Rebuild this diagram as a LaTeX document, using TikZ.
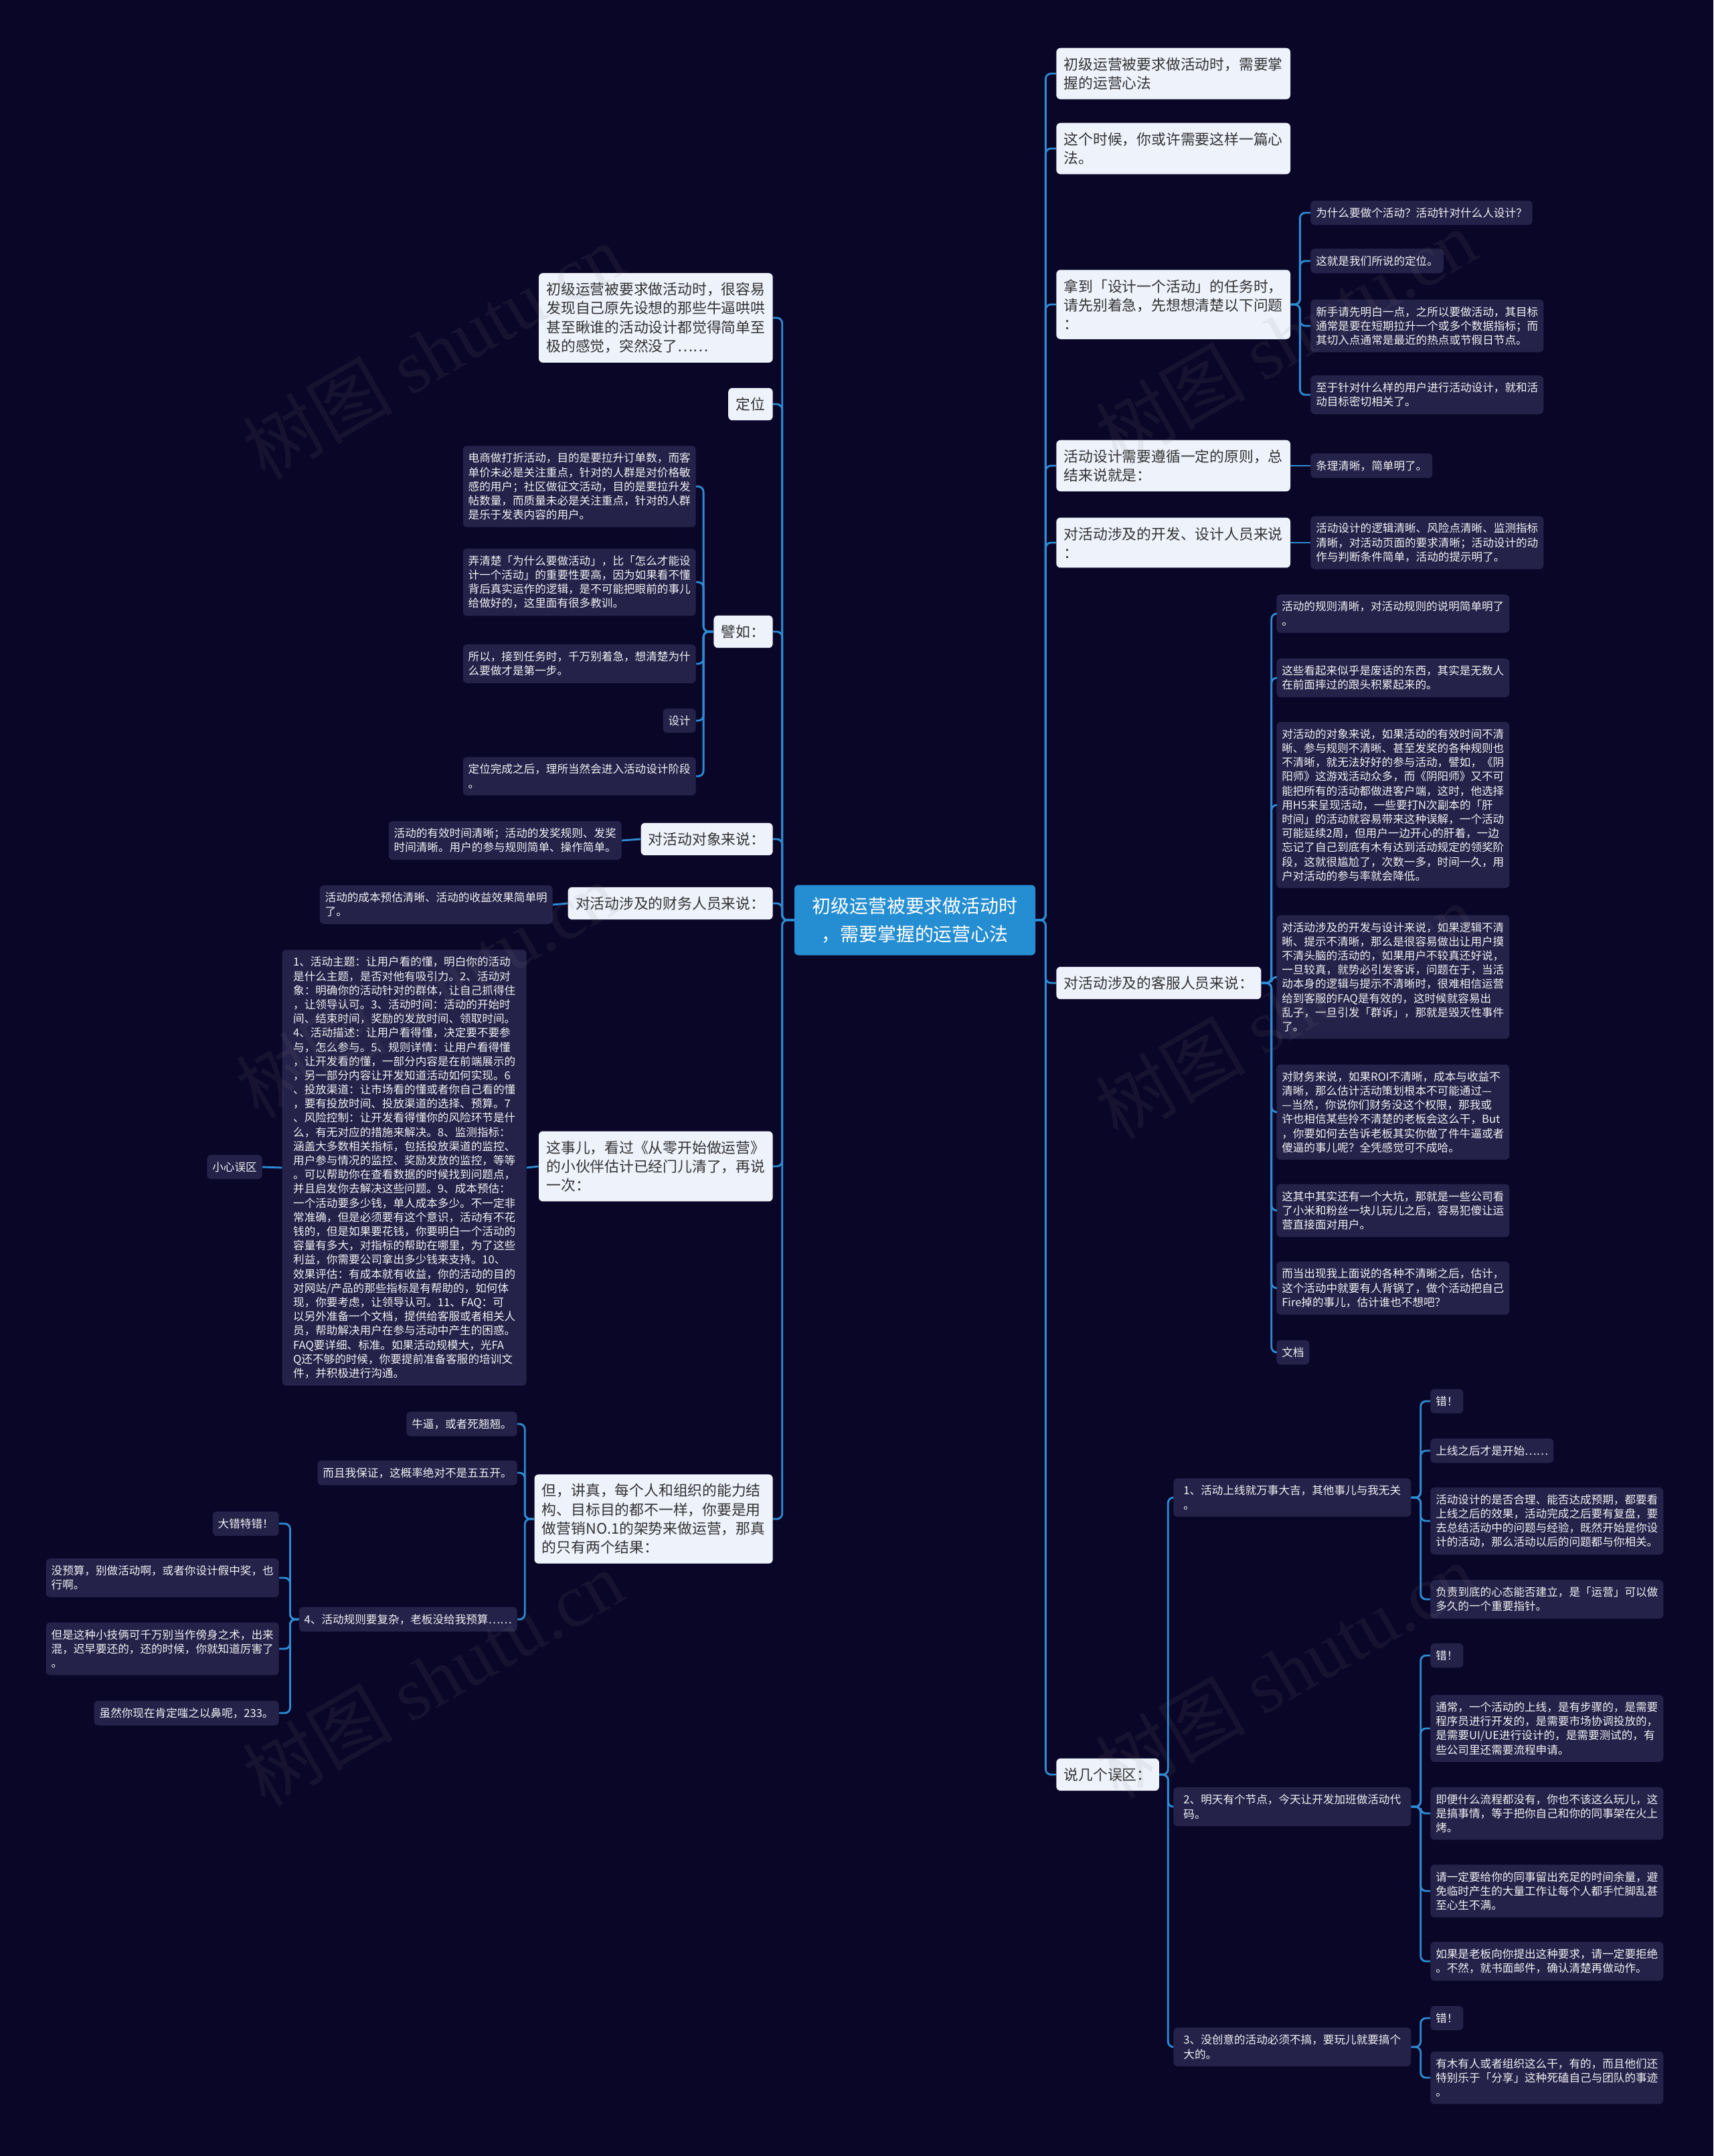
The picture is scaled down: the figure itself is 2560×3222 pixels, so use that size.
\documentclass[tikz,border=0pt]{standalone}
\usepackage{fontspec}
\setmainfont{Noto Sans CJK SC}
\newfontfamily\wmserif{Liberation Serif}
\usepackage{tikz}
\definecolor{bgnavy}{HTML}{0A0628}
\definecolor{topicfill}{HTML}{EEF2FB}
\definecolor{topicink}{HTML}{333333}
\definecolor{leaffill}{HTML}{25224A}
\definecolor{leafink}{HTML}{F2F2F2}
\definecolor{rootblue}{HTML}{258ED2}
\definecolor{linkblue}{HTML}{2D8CD4}

\begin{document}
\begin{tikzpicture}[x=0.02cm,y=-0.02cm,
  root/.style={fill=rootblue,text=white,rounded corners=3.5pt,align=center,
    inner xsep=15pt,inner ysep=10.5pt,font=\fontsize{15.9}{23.7}\selectfont},
  topic/.style={fill=topicfill,text=topicink,rounded corners=3.5pt,align=left,
    inner xsep=6.5pt,inner ysep=8pt,font=\fontsize{12.4}{16.1}\selectfont},
  leaf/.style={fill=leaffill,text=leafink,rounded corners=3.5pt,align=left,
    inner xsep=4.5pt,inner ysep=6pt,font=\fontsize{9.45}{12.06}\selectfont},
  topicL/.style={topic,anchor=east},
  topicR/.style={topic,anchor=west},
  leafL/.style={leaf,anchor=east},
  leafR/.style={leaf,anchor=west},
  link/.style={draw=linkblue,line width=1.6pt,rounded corners=4.5pt},
  wmark/.style={text=gray,text opacity=0.1,rotate=30,font=\fontsize{64}{64}\selectfont}]

\fill[bgnavy] (0,0) rectangle (2560,3222);
\useasboundingbox (0,0) rectangle (2560,3222);

\node[root] (root) at (1367,1375) {初级运营被要求做活动时\\，需要掌握的运营心法};

\node[topicR] (n1) at (1578,110) {初级运营被要求做活动时，需要掌\\握的运营心法};
\node[topicR] (n2) at (1578,222) {这个时候，你或许需要这样一篇心\\法。};
\node[topicR] (n3) at (1578,455) {拿到「设计一个活动」的任务时，\\请先别着急，先想想清楚以下问题\\：};
\node[leafR] (n3a) at (1958,318) {为什么要做个活动？活动针对什么人设计？};
\node[leafR] (n3b) at (1958,390) {这就是我们所说的定位。};
\node[leafR] (n3c) at (1958,487) {新手请先明白一点，之所以要做活动，其目标\\通常是要在短期拉升一个或多个数据指标；而\\其切入点通常是最近的热点或节假日节点。};
\node[leafR] (n3d) at (1958,590) {至于针对什么样的用户进行活动设计，就和活\\动目标密切相关了。};
\node[topicR] (n4) at (1578,696) {活动设计需要遵循一定的原则，总\\结来说就是：};
\node[leafR] (n4a) at (1958,696) {条理清晰，简单明了。};
\node[topicR] (n5) at (1578,811) {对活动涉及的开发、设计人员来说\\：};
\node[leafR] (n5a) at (1958,811) {活动设计的逻辑清晰、风险点清晰、监测指标\\清晰，对活动页面的要求清晰；活动设计的动\\作与判断条件简单，活动的提示明了。};

\node[topicR] (n6) at (1578,1469) {对活动涉及的客服人员来说：};
\node[leafR] (k1) at (1907,917) {活动的规则清晰，对活动规则的说明简单明了\\。};
\node[leafR] (k2) at (1907,1013) {这些看起来似乎是废话的东西，其实是无数人\\在前面摔过的跟头积累起来的。};
\node[leafR] (k3) at (1907,1203) {对活动的对象来说，如果活动的有效时间不清\\晰、参与规则不清晰、甚至发奖的各种规则也\\不清晰，就无法好好的参与活动，譬如，《阴\\阳师》这游戏活动众多，而《阴阳师》又不可\\能把所有的活动都做进客户端，这时，他选择\\用H5来呈现活动，一些要打N次副本的「肝\\时间」的活动就容易带来这种误解，一个活动\\可能延续2周，但用户一边开心的肝着，一边\\忘记了自己到底有木有达到活动规定的领奖阶\\段，这就很尴尬了，次数一多，时间一久，用\\户对活动的参与率就会降低。};
\node[leafR] (k4) at (1907,1460) {对活动涉及的开发与设计来说，如果逻辑不清\\晰、提示不清晰，那么是很容易做出让用户摸\\不清头脑的活动的，如果用户不较真还好说，\\一旦较真，就势必引发客诉，问题在于，当活\\动本身的逻辑与提示不清晰时，很难相信运营\\给到客服的FAQ是有效的，这时候就容易出\\乱子，一旦引发「群诉」，那就是毁灭性事件\\了。};
\node[leafR] (k5) at (1907,1662) {对财务来说，如果ROI不清晰，成本与收益不\\清晰，那么估计活动策划根本不可能通过—\\—当然，你说你们财务没这个权限，那我或\\许也相信某些拎不清楚的老板会这么干，But\\，你要如何去告诉老板其实你做了件牛逼或者\\傻逼的事儿呢？全凭感觉可不成哈。};
\node[leafR] (k6) at (1907,1809) {这其中其实还有一个大坑，那就是一些公司看\\了小米和粉丝一块儿玩儿之后，容易犯傻让运\\营直接面对用户。};
\node[leafR] (k7) at (1907,1925) {而当出现我上面说的各种不清晰之后，估计，\\这个活动中就要有人背锅了，做个活动把自己\\Fire掉的事儿，估计谁也不想吧？};
\node[leafR] (k8) at (1907,2021) {文档};

\node[topicR] (n7) at (1578,2652) {说几个误区：};
\node[leafR,minimum width=7.1cm] (m1) at (1753,2238) {1、活动上线就万事大吉，其他事儿与我无关\\。};
\node[leafR] (m1a) at (2137,2094) {错！};
\node[leafR] (m1b) at (2137,2168) {上线之后才是开始……};
\node[leafR] (m1c) at (2137,2273) {活动设计的是否合理、能否达成预期，都要看\\上线之后的效果，活动完成之后要有复盘，要\\去总结活动中的问题与经验，既然开始是你设\\计的活动，那么活动以后的问题都与你相关。};
\node[leafR] (m1d) at (2137,2390) {负责到底的心态能否建立，是「运营」可以做\\多久的一个重要指针。};
\node[leafR,minimum width=7.1cm] (m2) at (1753,2700) {2、明天有个节点，今天让开发加班做活动代\\码。};
\node[leafR] (m2a) at (2137,2474) {错！};
\node[leafR] (m2b) at (2137,2583) {通常，一个活动的上线，是有步骤的，是需要\\程序员进行开发的，是需要市场协调投放的，\\是需要UI/UE进行设计的，是需要测试的，有\\些公司里还需要流程申请。};
\node[leafR] (m2c) at (2137,2710) {即便什么流程都没有，你也不该这么玩儿，这\\是搞事情，等于把你自己和你的同事架在火上\\烤。};
\node[leafR] (m2d) at (2137,2826) {请一定要给你的同事留出充足的时间余量，避\\免临时产生的大量工作让每个人都手忙脚乱甚\\至心生不满。};
\node[leafR] (m2e) at (2137,2931) {如果是老板向你提出这种要求，请一定要拒绝\\。不然，就书面邮件，确认清楚再做动作。};
\node[leafR,minimum width=7.1cm] (m3) at (1753,3059) {3、没创意的活动必须不搞，要玩儿就要搞个\\大的。};
\node[leafR] (m3a) at (2137,3016) {错！};
\node[leafR] (m3b) at (2137,3105) {有木有人或者组织这么干，有的，而且他们还\\特别乐于「分享」这种死磕自己与团队的事迹\\。};

\node[topicL] (l1) at (1155,475) {初级运营被要求做活动时，很容易\\发现自己原先设想的那些牛逼哄哄\\甚至瞅谁的活动设计都觉得简单至\\极的感觉，突然没了……};
\node[topicL] (l2) at (1155,604) {定位};
\node[topicL] (l3) at (1155,944) {譬如：};
\node[leafL] (l3a) at (1040,727) {电商做打折活动，目的是要拉升订单数，而客\\单价未必是关注重点，针对的人群是对价格敏\\感的用户；社区做征文活动，目的是要拉升发\\帖数量，而质量未必是关注重点，针对的人群\\是乐于发表内容的用户。};
\node[leafL] (l3b) at (1040,870) {弄清楚「为什么要做活动」，比「怎么才能设\\计一个活动」的重要性要高，因为如果看不懂\\背后真实运作的逻辑，是不可能把眼前的事儿\\给做好的，这里面有很多教训。};
\node[leafL] (l3c) at (1040,992) {所以，接到任务时，千万别着急，想清楚为什\\么要做才是第一步。};
\node[leafL] (l3d) at (1040,1077) {设计};
\node[leafL] (l3e) at (1040,1160) {定位完成之后，理所当然会进入活动设计阶段\\。};
\node[topicL] (l4) at (1155,1254) {对活动对象来说：};
\node[leafL] (l4a) at (929,1256) {活动的有效时间清晰；活动的发奖规则、发奖\\时间清晰。用户的参与规则简单、操作简单。};
\node[topicL] (l5) at (1155,1350) {对活动涉及的财务人员来说：};
\node[leafL] (l5a) at (826,1352) {活动的成本预估清晰、活动的收益效果简单明\\了。};

\node[topicL] (l6) at (1155,1743) {这事儿，看过《从零开始做运营》\\的小伙伴估计已经门儿清了，再说\\一次：};
\node[leafL,minimum width=7.3cm] (l6a) at (787,1745) {1、活动主题：让用户看的懂，明白你的活动\\是什么主题，是否对他有吸引力。2、活动对\\象：明确你的活动针对的群体，让自己抓得住\\，让领导认可。3、活动时间：活动的开始时\\间、结束时间，奖励的发放时间、领取时间。\\4、活动描述：让用户看得懂，决定要不要参\\与，怎么参与。5、规则详情：让用户看得懂\\，让开发看的懂，一部分内容是在前端展示的\\，另一部分内容让开发知道活动如何实现。6\\、投放渠道：让市场看的懂或者你自己看的懂\\，要有投放时间、投放渠道的选择、预算。7\\、风险控制：让开发看得懂你的风险环节是什\\么，有无对应的措施来解决。8、监测指标：\\涵盖大多数相关指标，包括投放渠道的监控、\\用户参与情况的监控、奖励发放的监控，等等\\。可以帮助你在查看数据的时候找到问题点，\\并且启发你去解决这些问题。9、成本预估：\\一个活动要多少钱，单人成本多少。不一定非\\常准确，但是必须要有这个意识，活动有不花\\钱的，但是如果要花钱，你要明白一个活动的\\容量有多大，对指标的帮助在哪里，为了这些\\利益，你需要公司拿出多少钱来支持。10、\\效果评估：有成本就有收益，你的活动的目的\\对网站/产品的那些指标是有帮助的，如何体\\现，你要考虑，让领导认可。11、FAQ：可\\以另外准备一个文档，提供给客服或者相关人\\员，帮助解决用户在参与活动中产生的困惑。\\FAQ要详细、标准。如果活动规模大，光FA\\Q还不够的时候，你要提前准备客服的培训文\\件，并积极进行沟通。};
\node[leafL] (l6b) at (392,1744) {小心误区};

\node[topicL] (l7) at (1155,2270) {但，讲真，每个人和组织的能力结\\构、目标目的都不一样，你要是用\\做营销NO.1的架势来做运营，那真\\的只有两个结果：};
\node[leafL] (l7a) at (773,2128) {牛逼，或者死翘翘。};
\node[leafL] (l7b) at (773,2201) {而且我保证，这概率绝对不是五五开。};
\node[leafL] (l7c) at (773,2420) {4、活动规则要复杂，老板没给我预算……};
\node[leafL] (l7d) at (417,2277) {大错特错！};
\node[leafL] (l7e) at (417,2358) {没预算，别做活动啊，或者你设计假中奖，也\\行啊。};
\node[leafL] (l7f) at (417,2464) {但是这种小技俩可千万别当作傍身之术，出来\\混，迟早要还的，还的时候，你就知道厉害了\\。};
\node[leafL] (l7g) at (417,2560) {虽然你现在肯定嗤之以鼻呢，233。};

\draw[link] (root.east) -- ++(15,0) |- (n1.west);
\draw[link] (root.east) -- ++(15,0) |- (n2.west);
\draw[link] (root.east) -- ++(15,0) |- (n3.west);
\draw[link] (root.east) -- ++(15,0) |- (n4.west);
\draw[link] (root.east) -- ++(15,0) |- (n5.west);
\draw[link] (root.east) -- ++(15,0) |- (n6.west);
\draw[link] (root.east) -- ++(15,0) |- (n7.west);

\draw[link] (n3.east) -- ++(14,0) |- (n3a.west);
\draw[link] (n3.east) -- ++(14,0) |- (n3b.west);
\draw[link] (n3.east) -- ++(14,0) |- (n3c.west);
\draw[link] (n3.east) -- ++(14,0) |- (n3d.west);
\draw[link] (n4.east) -- (n4a.west);
\draw[link] (n5.east) -- (n5a.west);

\draw[link] (n6.east) -- ++(15,0) |- (k1.west);
\draw[link] (n6.east) -- ++(15,0) |- (k2.west);
\draw[link] (n6.east) -- ++(15,0) |- (k3.west);
\draw[link] (n6.east) -- ++(15,0) |- (k4.west);
\draw[link] (n6.east) -- ++(15,0) |- (k5.west);
\draw[link] (n6.east) -- ++(15,0) |- (k6.west);
\draw[link] (n6.east) -- ++(15,0) |- (k7.west);
\draw[link] (n6.east) -- ++(15,0) |- (k8.west);

\draw[link] (n7.east) -- ++(13,0) |- (m1.west);
\draw[link] (n7.east) -- ++(13,0) |- (m2.west);
\draw[link] (n7.east) -- ++(13,0) |- (m3.west);
\draw[link] (m1.east) -- ++(14,0) |- (m1a.west);
\draw[link] (m1.east) -- ++(14,0) |- (m1b.west);
\draw[link] (m1.east) -- ++(14,0) |- (m1c.west);
\draw[link] (m1.east) -- ++(14,0) |- (m1d.west);
\draw[link] (m2.east) -- ++(14,0) |- (m2a.west);
\draw[link] (m2.east) -- ++(14,0) |- (m2b.west);
\draw[link] (m2.east) -- ++(14,0) |- (m2c.west);
\draw[link] (m2.east) -- ++(14,0) |- (m2d.west);
\draw[link] (m2.east) -- ++(14,0) |- (m2e.west);
\draw[link] (m3.east) -- ++(14,0) |- (m3a.west);
\draw[link] (m3.east) -- ++(14,0) |- (m3b.west);

\draw[link] (root.west) -- ++(-18,0) |- (l1.east);
\draw[link] (root.west) -- ++(-18,0) |- (l2.east);
\draw[link] (root.west) -- ++(-18,0) |- (l3.east);
\draw[link] (root.west) -- ++(-18,0) |- (l4.east);
\draw[link] (root.west) -- ++(-18,0) |- (l5.east);
\draw[link] (root.west) -- ++(-18,0) |- (l6.east);
\draw[link] (root.west) -- ++(-18,0) |- (l7.east);

\draw[link] (l3.west) -- ++(-15,0) |- (l3a.east);
\draw[link] (l3.west) -- ++(-15,0) |- (l3b.east);
\draw[link] (l3.west) -- ++(-15,0) |- (l3c.east);
\draw[link] (l3.west) -- ++(-15,0) |- (l3d.east);
\draw[link] (l3.west) -- ++(-15,0) |- (l3e.east);
\draw[link] (l4.west) -- (l4a.east);
\draw[link] (l5.west) -- (l5a.east);
\draw[link] (l6.west) -- (l6a.east);
\draw[link] (l6a.west) -- (l6b.east);

\draw[link] (l7.west) -- ++(-14,0) |- (l7a.east);
\draw[link] (l7.west) -- ++(-14,0) |- (l7b.east);
\draw[link] (l7.west) -- ++(-14,0) |- (l7c.east);
\draw[link] (l7c.west) -- ++(-13,0) |- (l7d.east);
\draw[link] (l7c.west) -- ++(-13,0) |- (l7e.east);
\draw[link] (l7c.west) -- ++(-13,0) |- (l7f.east);
\draw[link] (l7c.west) -- ++(-13,0) |- (l7g.east);

\node[wmark] (wm1) at (647,524) {树图 {\wmserif shutu.cn}};
\node[wmark] (wm2) at (1921,503) {树图 {\wmserif shutu.cn}};
\node[wmark] (wm3) at (637,1479) {树图 {\wmserif shutu.cn}};
\node[wmark] (wm4) at (1921,1510) {树图 {\wmserif shutu.cn}};
\node[wmark] (wm5) at (647,2507) {树图 {\wmserif shutu.cn}};
\node[wmark] (wm6) at (1921,2496) {树图 {\wmserif shutu.cn}};

\end{tikzpicture}
\end{document}
